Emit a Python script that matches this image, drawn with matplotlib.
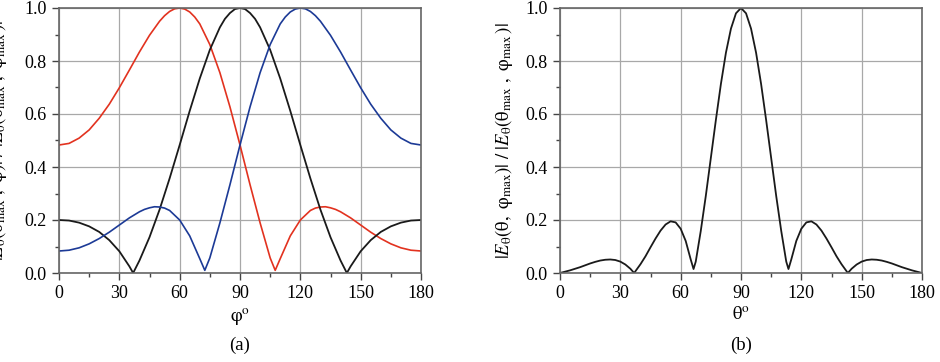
import matplotlib
matplotlib.use("Agg")
import matplotlib.pyplot as plt
from matplotlib.ticker import MultipleLocator

plt.rcParams['font.family'] = ['Liberation Serif', 'DejaVu Serif']
plt.rcParams['mathtext.fontset'] = 'stix'

# (a) field pattern vs phi at theta_max, three scan angles
phi_black = [0, 5, 10, 15, 20, 25, 30, 35, 36.87, 40, 45, 50, 55, 60, 65, 70, 75, 80, 82.5, 85,
             87.5, 90, 92.5, 95, 97.5, 100, 105, 110, 115, 120, 125, 130, 135, 140, 143.13,
             145, 150, 155, 160, 165, 170, 175, 180]
e_black = [0.200, 0.198, 0.190, 0.176, 0.155, 0.124, 0.082, 0.025, 0.0, 0.047, 0.135, 0.239,
           0.357, 0.483, 0.612, 0.734, 0.842, 0.927, 0.959, 0.981, 0.996, 1.000, 0.996, 0.981,
           0.959, 0.927, 0.842, 0.734, 0.612, 0.483, 0.357, 0.239, 0.135, 0.047, 0.0, 0.025,
           0.082, 0.124, 0.155, 0.176, 0.190, 0.198, 0.200]

phi_red = [0, 5, 10, 15, 20, 25, 30, 35, 40, 45, 50, 52.5, 55, 57.5, 60, 62.5, 65, 67.5, 70,
           75, 80, 85, 90, 95, 100, 105, 107.5, 110, 115, 120, 125, 127.5, 130, 132.5, 135,
           137.5, 140, 145, 150, 155, 160, 165, 170, 175, 180]
e_red = [0.483, 0.489, 0.509, 0.540, 0.584, 0.637, 0.699, 0.766, 0.834, 0.897, 0.950, 0.971,
         0.987, 0.997, 1.000, 0.996, 0.985, 0.966, 0.940, 0.862, 0.756, 0.627, 0.483, 0.333,
         0.189, 0.057, 0.010, 0.054, 0.140, 0.200, 0.236, 0.245, 0.249, 0.250, 0.246, 0.240,
         0.231, 0.208, 0.181, 0.154, 0.130, 0.110, 0.095, 0.086, 0.083]

phi_blue = [0, 5, 10, 15, 20, 25, 30, 35, 40, 42.5, 45, 47.5, 50, 52.5, 55, 60, 65, 70, 72.5,
            75, 80, 85, 90, 95, 100, 105, 110, 112.5, 115, 117.5, 120, 122.5, 125, 127.5,
            130, 135, 140, 145, 150, 155, 160, 165, 170, 175, 180]
e_blue = [0.083, 0.086, 0.095, 0.110, 0.130, 0.154, 0.181, 0.208, 0.231, 0.240, 0.246, 0.250,
          0.249, 0.245, 0.236, 0.200, 0.140, 0.054, 0.010, 0.057, 0.189, 0.333, 0.483, 0.627,
          0.756, 0.862, 0.940, 0.966, 0.985, 0.996, 1.000, 0.997, 0.987, 0.971, 0.950, 0.897,
          0.834, 0.766, 0.699, 0.637, 0.584, 0.540, 0.509, 0.489, 0.483]

# (b) field pattern vs theta at phi_max
theta_b = [0, 5, 10, 12.5, 15, 17.5, 20, 22.5, 25, 27.5, 30, 32.5, 35, 36.87, 40, 42.5, 45,
           47.5, 50, 52.5, 55, 57.5, 60, 62.5, 65, 66.4, 67.5, 70, 72.5, 75, 77.5, 80, 82.5,
           85, 87.5, 90, 92.5, 95, 97.5, 100, 102.5, 105, 107.5, 110, 112.5, 113.6, 115,
           117.5, 120, 122.5, 125, 127.5, 130, 132.5, 135, 137.5, 140, 143.13, 145, 147.5,
           150, 152.5, 155, 157.5, 160, 162.5, 165, 167.5, 170, 175, 180]
e_b = [0.000, 0.010, 0.022, 0.029, 0.036, 0.042, 0.047, 0.050, 0.051, 0.049, 0.043, 0.032,
       0.016, 0.0, 0.033, 0.063, 0.097, 0.130, 0.160, 0.183, 0.195, 0.191, 0.167, 0.121,
       0.051, 0.015, 0.043, 0.159, 0.291, 0.434, 0.577, 0.713, 0.831, 0.922, 0.980, 1.000,
       0.980, 0.922, 0.831, 0.713, 0.577, 0.434, 0.291, 0.159, 0.043, 0.015, 0.051, 0.121,
       0.167, 0.191, 0.195, 0.183, 0.160, 0.130, 0.097, 0.063, 0.033, 0.0, 0.016, 0.032,
       0.043, 0.049, 0.051, 0.050, 0.047, 0.042, 0.036, 0.029, 0.022, 0.010, 0.000]

xticks = [0, 30, 60, 90, 120, 150, 180]
yticks = [0.0, 0.2, 0.4, 0.6, 0.8, 1.0]

fig = plt.figure(figsize=(9.4, 3.62), dpi=100)
ax1 = fig.add_axes([59/940, 89/362, 362/940, 265/362])
ax2 = fig.add_axes([560/940, 89/362, 362/940, 265/362])

ax1.plot(phi_red, e_red, color='#e2321f', lw=1.2)
ax1.plot(phi_black, e_black, color='#1a1a1a', lw=1.3)
ax1.plot(phi_blue, e_blue, color='#1c3a96', lw=1.2)
ax2.plot(theta_b, e_b, color='#1a1a1a', lw=1.3)

lab_a = r'$|E_{\mathrm{\theta}}(\mathrm{\theta}_{\mathrm{max}}\ ,\ \mathrm{\varphi})|\ /\ |E_{\mathrm{\theta}}(\mathrm{\theta}_{\mathrm{max}}\ ,\ \mathrm{\varphi}_{\mathrm{max}}\,)|$'
lab_b = r'$|E_{\mathrm{\theta}}(\mathrm{\theta},\ \mathrm{\varphi}_{\mathrm{max}})|\ /\ |E_{\mathrm{\theta}}(\mathrm{\theta}_{\mathrm{max}}\ ,\ \mathrm{\varphi}_{\mathrm{max}}\,)|$'

# label x is where the label's right edge sits (axes fraction)
for ax, xl, yl, tag, lx in [(ax1, r'$\mathrm{\varphi}^{\mathrm{o}}$', lab_a, '(a)', -0.138),
                            (ax2, r'$\mathrm{\theta}^{\mathrm{o}}$', lab_b, '(b)', -0.124)]:
    ax.set_xlim(0, 180)
    ax.set_ylim(0, 1.0)
    ax.set_xticks(xticks)
    ax.set_yticks(yticks)
    ax.set_yticklabels([f'{t:.1f}' for t in yticks])
    ax.xaxis.set_minor_locator(MultipleLocator(15))
    ax.yaxis.set_minor_locator(MultipleLocator(0.1))
    ax.grid(True, which='major', color='#a8a8a8', lw=0.9)
    ax.set_axisbelow(True)
    for s in ax.spines.values():
        s.set_color('#666666')
        s.set_linewidth(1.2)
    ax.tick_params(which='major', direction='out', length=5, width=1, color='#444444',
                   labelsize=13, pad=4)
    ax.tick_params(which='minor', direction='out', length=3, width=1, color='#444444')
    ax.set_xlabel(xl, fontsize=13.5, labelpad=3)
    ax.set_ylabel(yl, fontsize=13.5)
    ax.yaxis.set_label_coords(lx, 0.5)
    ax.text(0.5, -0.272, tag, transform=ax.transAxes, ha='center', va='center', fontsize=13.5)

fig.savefig('out.png', dpi=100)
